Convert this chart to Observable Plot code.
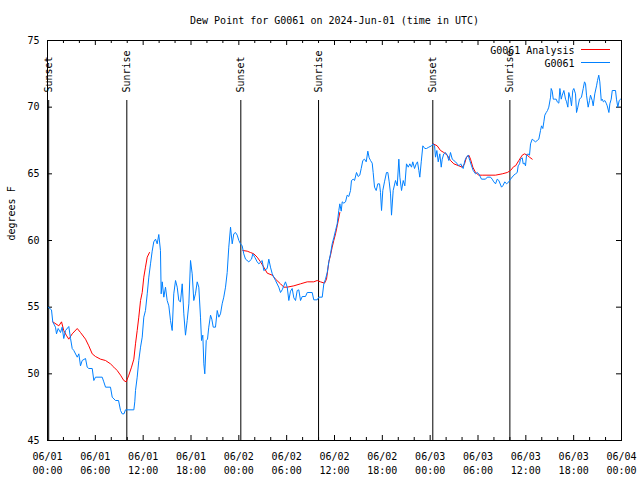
<!DOCTYPE html>
<html><head><meta charset="utf-8">
<script src="https://cdn.jsdelivr.net/npm/d3@7"></script>
<script src="https://cdn.jsdelivr.net/npm/@observablehq/plot@0.6"></script>
<style>body{margin:0;background:#fff}</style>
</head><body><div id="chart"></div>
<script>
const chartTitle = "Dew Point for G0061 on 2024-Jun-01 (time in UTC)";
const yLabel = "degrees F";
const seriesNames = ["G0061 Analysis", "G0061"];
const seriesColors = ["#ff0000", "#0080ff"];
const baseTime = Date.UTC(2024, 5, 1);

// Observations (hours after 2024-06-01 00:00 UTC, degrees F)
const obsHours = [0.09,0.50,0.66,1.00,1.13,1.34,1.63,1.84,2.04,2.26,2.67,2.89,3.10,3.30,3.73,3.93,4.14,4.35,4.77,4.98,5.18,5.61,5.81,6.02,6.86,7.06,7.28,7.90,8.12,8.53,8.91,9.16,9.37,9.60,9.78,10.83,10.95,11.04,11.25,11.45,11.67,11.88,12.08,12.29,12.51,12.71,12.92,13.13,13.33,13.55,13.76,13.96,14.17,14.26,14.39,14.59,14.80,15.01,15.22,15.43,15.64,15.84,16.06,16.27,16.47,16.68,16.90,17.10,17.31,17.52,17.73,17.94,18.15,18.35,18.56,18.78,18.98,19.19,19.32,19.48,19.61,19.73,19.91,20.07,20.23,20.45,20.61,20.79,21.07,21.29,21.49,21.70,21.91,22.11,22.33,22.54,22.74,22.96,23.17,23.37,23.58,23.80,24.00,24.21,24.42,24.62,24.84,25.25,25.59,25.75,26.00,26.30,26.51,26.93,27.13,27.56,27.76,27.97,28.19,28.60,29.01,29.23,29.44,29.64,29.85,30.07,30.27,30.48,30.69,30.90,31.11,31.32,31.52,31.74,31.95,32.36,32.58,33.20,33.40,33.83,34.03,34.46,34.66,34.87,35.09,35.29,35.50,35.71,35.91,36.13,36.34,36.54,36.67,36.84,36.97,37.17,37.38,37.59,37.79,38.01,38.13,38.35,38.51,38.76,38.97,39.17,39.35,39.55,39.76,39.98,40.18,40.35,40.52,40.73,40.85,41.02,41.23,41.43,41.65,41.77,41.90,42.06,42.27,42.52,42.69,42.86,43.03,43.15,43.36,43.65,43.87,44.07,44.20,44.41,44.62,44.82,45.03,45.25,45.45,45.66,45.82,46.04,46.25,46.41,46.58,46.70,46.88,47.08,47.33,47.54,47.83,48.17,48.38,48.55,48.67,48.84,49.01,49.21,49.39,49.51,49.71,49.92,50.14,50.34,50.55,50.77,50.97,51.18,51.39,51.60,51.84,52.02,52.14,52.35,52.56,52.77,52.97,53.19,53.40,53.69,53.90,54.10,54.44,54.94,55.16,55.57,55.78,55.98,56.20,56.41,56.61,56.95,57.11,57.36,57.58,57.87,58.08,58.49,58.71,58.92,59.04,59.21,59.33,59.55,59.67,59.83,59.96,60.09,60.25,60.46,60.59,60.80,61.00,61.21,61.43,61.63,61.84,61.97,62.13,62.26,62.38,62.56,62.72,62.88,63.10,63.18,63.31,63.44,63.64,63.81,63.94,64.14,64.27,64.44,64.57,64.77,64.98,65.11,65.27,65.39,65.61,65.73,65.89,66.02,66.23,66.36,66.52,66.73,66.98,67.20,67.36,67.49,67.61,67.82,67.99,68.11,68.33,68.45,68.65,68.87,68.99,69.15,69.28,69.46,69.58,69.73,69.91,70.08,70.21,70.42,70.54,70.71,70.84,71.25,71.37,71.54,71.71,71.88];
const obsValues = [55.0,54.8,53.9,53.5,53.0,53.4,53.1,53.5,52.65,53.25,53.55,52.65,51.9,51.75,51.25,51.5,50.6,51.0,51.15,50.5,50.4,50.4,49.5,49.75,49.75,49.4,49.0,49.0,48.25,48.0,48.0,47.25,47.0,47.0,47.3,47.3,47.9,48.75,49.75,51.0,52.0,52.75,54.25,54.75,56.0,57.25,58.25,59.2,59.9,60.1,59.75,60.45,59.25,56.0,56.9,55.75,56.5,55.5,55.1,54.0,53.25,56.0,57.0,56.5,55.5,55.4,56.75,54.5,52.9,54.0,55.25,58.5,57.5,55.5,56.0,56.9,56.5,54.25,52.5,52.9,50.75,50.0,52.5,52.6,53.5,54.4,54.1,53.5,53.5,54.75,54.25,54.5,55.25,55.75,56.5,57.6,59.5,61.0,59.75,60.5,60.6,60.4,60.0,59.75,59.6,59.0,58.6,58.4,58.6,59.0,58.75,58.4,58.25,58.5,57.75,57.9,58.6,58.0,57.5,57.0,56.5,56.1,56.3,56.6,56.9,56.5,55.5,56.2,56.4,55.7,55.5,56.25,56.3,55.5,55.8,55.8,56.1,56.1,55.55,55.55,55.75,55.75,56.75,57.1,57.6,58.4,59.0,59.75,60.2,60.75,61.25,62.25,62.75,62.2,62.9,62.8,62.9,63.4,63.3,63.75,64.5,64.6,64.5,65.1,64.8,64.9,65.4,66.0,66.1,65.9,66.7,66.2,66.0,65.8,65.1,64.0,63.75,64.25,64.25,63.6,62.25,63.75,64.4,65.1,65.1,64.4,63.5,61.9,63.75,64.5,64.1,66.1,64.75,63.75,64.5,64.1,65.75,65.5,65.75,65.5,65.9,65.4,65.75,65.9,65.25,64.75,65.9,67.1,66.9,66.9,67.0,67.1,67.25,67.1,66.25,66.75,65.9,66.5,65.5,66.1,66.5,66.6,66.4,66.0,66.6,66.1,66.0,65.9,65.75,65.6,65.75,65.5,65.4,66.0,66.25,66.4,66.0,65.6,65.25,65.0,65.1,65.0,64.6,64.6,64.75,64.75,64.6,64.4,64.25,64.6,64.5,64.0,64.1,64.4,64.25,64.4,64.6,64.9,65.0,65.1,65.6,65.75,66.1,66.2,65.75,65.8,65.6,66.4,66.5,66.4,67.25,67.6,67.5,67.4,67.5,67.6,68.25,68.6,68.4,68.9,69.4,69.6,69.75,70.0,70.75,71.4,71.2,70.6,70.6,70.6,70.4,70.3,71.4,70.6,70.9,71.25,70.6,70.4,70.0,71.1,70.6,70.1,71.25,71.4,71.0,69.6,70.0,70.6,70.75,71.4,71.9,71.75,70.9,70.0,70.5,70.9,70.5,70.1,71.0,71.6,72.0,72.4,71.9,70.5,70.6,70.4,70.5,70.3,70.1,69.6,70.25,70.6,71.25,71.25,70.6,70.0,70.5,70.6];

// Analysis (null values mark gaps between segments)
const anaHours = [0.66,1.42,1.76,2.04,2.35,2.67,3.10,3.73,4.14,4.77,5.18,5.61,6.02,6.65,7.28,7.90,8.32,8.74,9.16,9.57,9.87,10.20,10.54,10.83,11.04,11.25,11.45,11.67,11.88,12.08,12.29,12.51,12.79,
  18.0,
  24.50,25.05,25.46,25.88,26.30,26.72,27.13,27.56,28.19,28.60,29.23,29.64,30.07,30.90,31.74,32.58,33.40,33.83,34.24,34.75,35.00,35.29,35.50,35.71,35.91,36.13,36.34,36.67,
  42.0,
  48.38,48.88,49.30,49.71,50.14,50.55,50.97,51.60,52.02,52.31,52.56,52.85,53.06,53.35,53.69,54.10,54.60,56.20,57.04,57.67,58.08,58.49,58.71,59.12,59.55,59.83,60.17,60.46,60.80];
const anaValues = [53.9,53.6,53.9,53.25,52.9,52.6,53.0,53.4,53.1,52.6,52.1,51.5,51.3,51.1,51.0,50.75,50.5,50.25,49.9,49.5,49.4,49.9,50.5,51.1,52.25,53.25,54.25,55.5,56.1,57.25,58.0,58.75,59.1,
  null,
  59.25,59.2,59.1,59.0,58.75,58.4,58.0,57.55,57.4,57.1,56.75,56.5,56.5,56.6,56.75,56.9,56.9,57.0,56.9,56.8,57.1,58.4,58.9,59.5,60.0,60.5,61.1,62.1,
  null,
  67.25,67.1,66.75,66.6,66.4,66.0,65.75,65.6,65.5,65.75,66.25,66.4,66.1,65.5,65.1,64.9,64.9,64.9,65.0,65.1,65.25,65.55,65.6,66.0,66.4,66.5,66.4,66.25,66.1];

const sunHours = [0.15, 9.95, 24.25, 34.0, 48.33, 58.0];
const sunLabels = ["Sunset", "Sunrise", "Sunset", "Sunrise", "Sunset", "Sunrise"];
const labelHours = [0, 6, 12, 18, 24, 30, 36, 42, 48, 54, 60, 66, 72];
const minorHours = [2, 4, 8, 10, 14, 16, 20, 22, 26, 28, 32, 34, 38, 40, 44, 46, 50, 52, 56, 58, 62, 64, 68, 70];
const yTicks = [45, 50, 55, 60, 65, 70, 75];

const toDate = h => new Date(baseTime + h * 3600000);
const fmt = d3.utcFormat("%m/%d\n%H:%M");

const obs = obsHours.map((h, i) => ({t: toDate(h), v: obsValues[i]}));
const ana = anaHours.map((h, i) => ({t: toDate(h), v: anaValues[i]}));

const plot = Plot.plot({
  width: 640, height: 480,
  marginTop: 40, marginRight: 19, marginBottom: 40, marginLeft: 47,
  style: {fontFamily: "'DejaVu Sans Mono', monospace", fontSize: "10px", background: "#fff", color: "#000"},
  x: {type: "utc", domain: [toDate(0), toDate(72)], axis: null},
  y: {domain: [45, 75], axis: null},
  marks: [
    Plot.frame({stroke: "#000", strokeWidth: 1}),
    Plot.tickX(labelHours, {x: toDate, insetTop: 395, stroke: "#000"}),
    Plot.tickX(labelHours, {x: toDate, insetBottom: 395, stroke: "#000"}),
    Plot.tickX(minorHours, {x: toDate, insetTop: 397, stroke: "#000"}),
    Plot.tickX(minorHours, {x: toDate, insetBottom: 397, stroke: "#000"}),
    Plot.tickY(yTicks, {y: d => d, insetRight: 569, stroke: "#000"}),
    Plot.tickY(yTicks, {y: d => d, insetLeft: 569, stroke: "#000"}),
    Plot.text(yTicks, {y: d => d, frameAnchor: "left", dx: -8, textAnchor: "end", lineAnchor: "middle", text: d => String(d)}),
    Plot.text(labelHours, {x: toDate, frameAnchor: "bottom", dy: 10, lineAnchor: "top", lineHeight: 1.4, text: h => fmt(toDate(h))}),
    Plot.text([yLabel], {frameAnchor: "left", dx: -36, rotate: -90, lineAnchor: "middle"}),
    Plot.text([chartTitle], {frameAnchor: "top", dy: -20, lineAnchor: "middle"}),
    Plot.ruleX(sunHours, {x: toDate, insetTop: 60, stroke: "#000", strokeWidth: 1}),
    Plot.text(sunHours, {x: toDate, frameAnchor: "top", dy: 52, rotate: -90, textAnchor: "start", lineAnchor: "middle", text: (d, i) => sunLabels[i]}),
    Plot.line(ana, {x: "t", y: "v", stroke: seriesColors[0], strokeWidth: 1}),
    Plot.line(obs, {x: "t", y: "v", stroke: seriesColors[1], strokeWidth: 1}),
    Plot.text([seriesNames[0]], {frameAnchor: "top-right", dx: -47, dy: 10, textAnchor: "end", lineAnchor: "middle"}),
    Plot.text([seriesNames[1]], {frameAnchor: "top-right", dx: -47, dy: 23, textAnchor: "end", lineAnchor: "middle"})
  ]
});
document.getElementById("chart").appendChild(plot);

// legend swatches
const svg = d3.select(plot);
seriesColors.forEach((c, i) => {
  svg.append("line")
    .attr("x1", 581).attr("x2", 610)
    .attr("y1", 49.5 + i * 13).attr("y2", 49.5 + i * 13)
    .attr("stroke", c).attr("stroke-width", 1);
});
</script>
</body></html>
